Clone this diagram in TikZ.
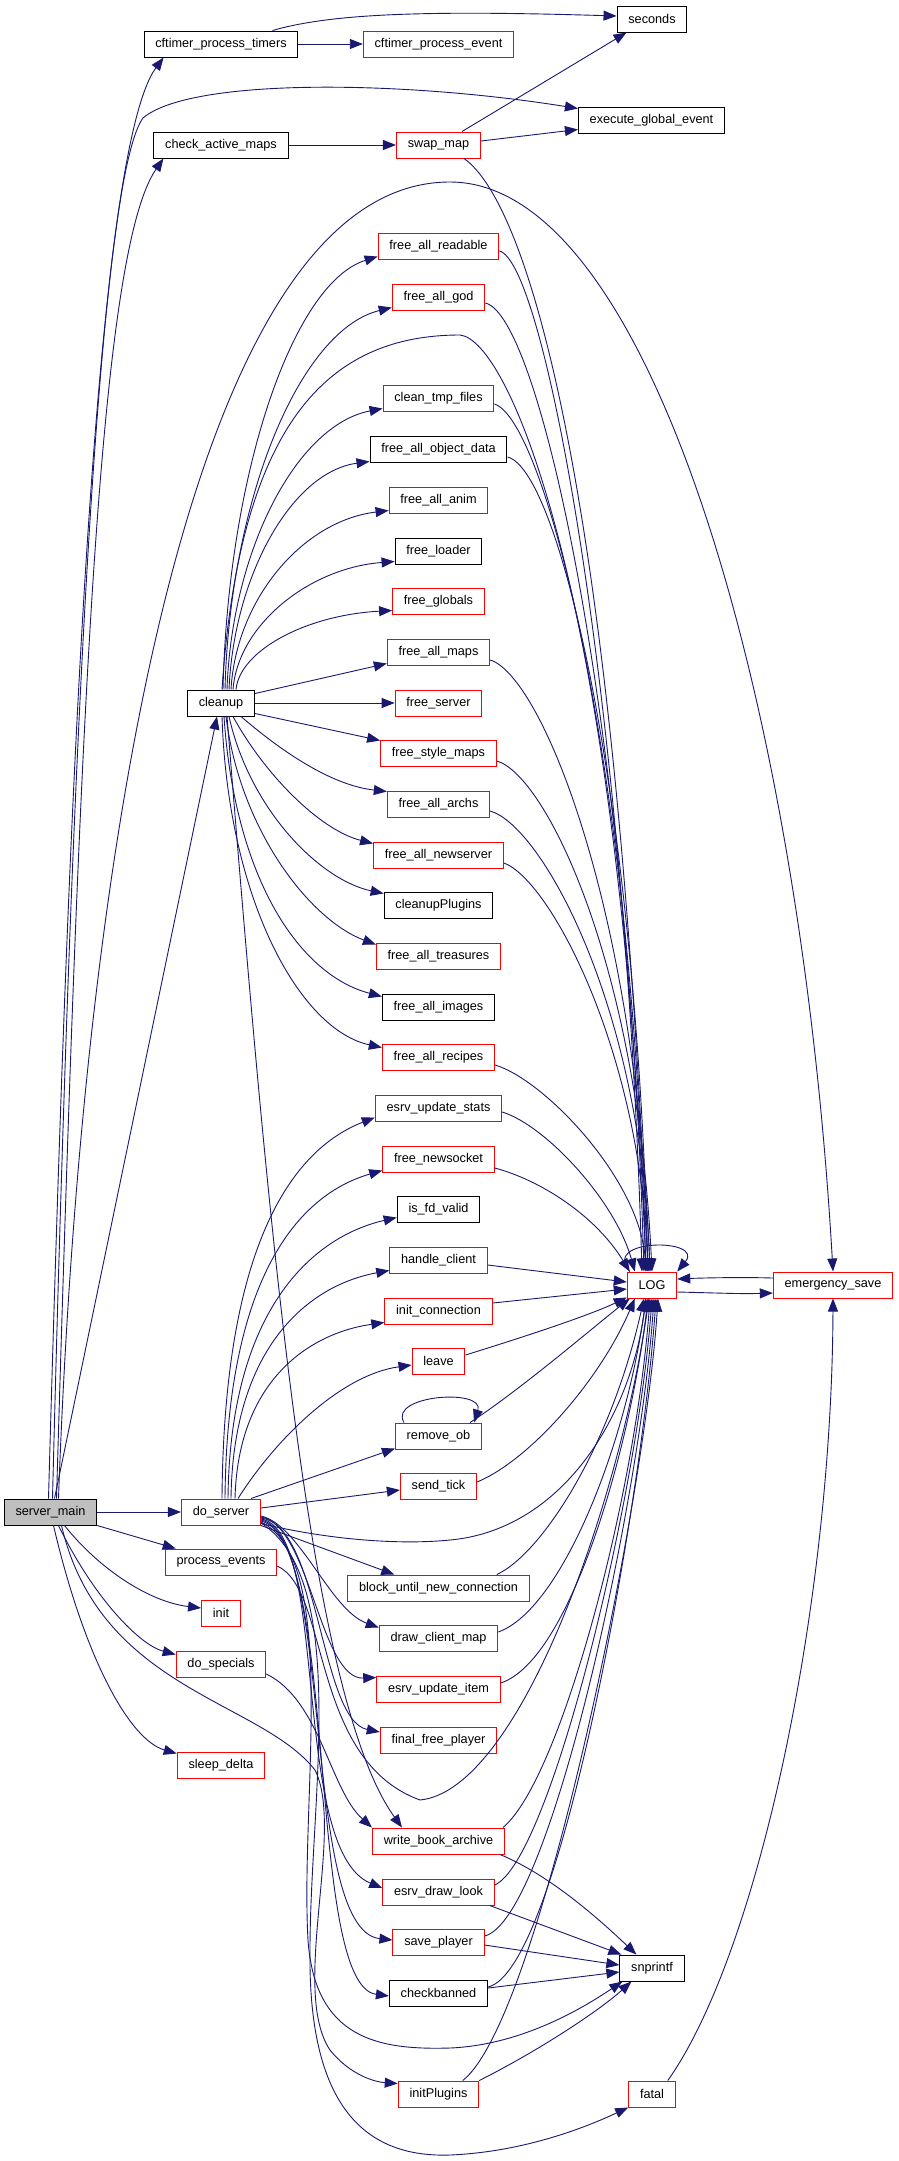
\documentclass[tikz,border=0pt]{standalone}
\usepackage{fontspec}
\setmainfont{Liberation Sans}
\usetikzlibrary{arrows.meta,calc}
\definecolor{eblue}{HTML}{191970}
\definecolor{ngray}{HTML}{BFBFBF}
\tikzset{
  nd/.style={draw, line width=1pt, minimum height=26pt, inner xsep=11.3pt, inner ysep=0pt, font=\fontsize{12.7}{14}\selectfont, text=black},
  rn/.style={nd, draw=red},
  bn/.style={nd, draw=black},
  e/.style={draw=eblue, line width=0.9pt, -{Triangle[length=13pt,width=10pt]}},
}
\begin{document}
\begin{tikzpicture}[x=1pt,y=-1pt]
\useasboundingbox[fill=white] (0,0) rectangle (899,2161);
% nodes
\node[bn] (cpt) at (221,44) {cftimer\_process\_timers};
\node[rn] (cpe) at (438.5,44) {cftimer\_process\_event};
\node[bn] (sec) at (652,19) {seconds};
\node[bn] (ege) at (651.5,120) {execute\_global\_event};
\node[bn] (cam) at (221,145) {check\_active\_maps};
\node[rn] (swp) at (438.5,145) {swap\_map};
\node[rn] (frd) at (438.5,246) {free\_all\_readable};
\node[rn] (fgd) at (438.5,297) {free\_all\_god};
\node[rn] (ctf) at (438.5,398) {clean\_tmp\_files};
\node[bn] (fod) at (438.5,449) {free\_all\_object\_data};
\node[rn] (fan) at (438.5,500) {free\_all\_anim};
\node[bn] (fld) at (438.5,551) {free\_loader};
\node[rn] (fgl) at (438.5,601) {free\_globals};
\node[rn] (fam) at (438.5,652) {free\_all\_maps};
\node[rn] (fsv) at (438.5,703) {free\_server};
\node[bn] (cln) at (221,703) {cleanup};
\node[rn] (fsm) at (438.5,753) {free\_style\_maps};
\node[rn] (far) at (438.5,804) {free\_all\_archs};
\node[rn] (fns) at (438.5,855) {free\_all\_newserver};
\node[bn] (cpl) at (438.5,905) {cleanupPlugins};
\node[rn] (ftr) at (438.5,956) {free\_all\_treasures};
\node[bn] (fim) at (438.5,1007) {free\_all\_images};
\node[rn] (frc) at (438.5,1057) {free\_all\_recipes};
\node[rn] (eus) at (438.5,1108) {esrv\_update\_stats};
\node[rn] (fnk) at (438.5,1159) {free\_newsocket};
\node[bn] (ifv) at (438.5,1209) {is\_fd\_valid};
\node[rn] (hcl) at (438.5,1260) {handle\_client};
\node[rn] (icn) at (438.5,1311) {init\_connection};
\node[rn] (lev) at (438.5,1361) {leave};
\node[rn] (rmo) at (438.5,1436) {remove\_ob};
\node[rn] (LOG) at (652,1285) {LOG};
\node[rn] (ems) at (833,1285) {emergency\_save};
\node[rn] (snd) at (438.5,1486) {send\_tick};
\node[bn, fill=ngray] (srv) at (50.5,1512) {server\_main};
\node[rn] (dos) at (221,1512) {do\_server};
\node[rn] (pev) at (221,1562) {process\_events};
\node[rn] (bun) at (438.5,1588) {block\_until\_new\_connection};
\node[rn] (ini) at (221,1613) {init};
\node[rn] (dcm) at (438.5,1638) {draw\_client\_map};
\node[rn] (dsp) at (221,1664) {do\_specials};
\node[rn] (eui) at (438.5,1689) {esrv\_update\_item};
\node[rn] (ffp) at (438.5,1740) {final\_free\_player};
\node[rn] (sld) at (221,1765) {sleep\_delta};
\node[rn] (wba) at (438.5,1841) {write\_book\_archive};
\node[rn] (edl) at (438.5,1892) {esrv\_draw\_look};
\node[rn] (svp) at (438.5,1942) {save\_player};
\node[bn] (ckb) at (438.5,1993) {checkbanned};
\node[rn] (ipl) at (438.5,2094) {initPlugins};
\node[bn] (snp) at (652,1968) {snprintf};
\node[rn] (fat) at (652,2094) {fatal};

% server_main
\draw[e] ($(srv.north)+(-2,0)$) .. controls (68,800) and (95,150) .. ($(cpt.south west)+(20,0)$);
\draw[e] ($(srv.north)+(2,0)$) .. controls (75,600) and (105,170) .. (143,118) .. controls (190,78) and (400,80) .. ($(ege.north west)+(0,2)$);
\draw[e] ($(srv.north)+(6,0)$) .. controls (80,700) and (100,250) .. ($(cam.south west)+(10,0)$);
\draw[e] ($(srv.north)+(8,0)$) .. controls (80,900) and (180,182) .. (450,182) .. controls (650,182) and (800,700) .. (ems.north);
\draw[e] ($(srv.north)+(4,0)$) -- ($(cln.south)+(-4,0)$);
\draw[e] (srv.east) -- (dos.west);
\draw[e] (srv.south east) -- ($(pev.north west)+(11,0)$);
\draw[e] ($(srv.south)+(14,0)$) .. controls (100,1570) and (150,1602) .. ($(ini.west)+(0,-5)$);
\draw[e] ($(srv.south)+(8,0)$) .. controls (95,1600) and (140,1645) .. ($(dsp.north west)+(0,4)$);
\draw[e] ($(srv.south)+(3,0)$) .. controls (85,1660) and (130,1740) .. ($(sld.north west)+(0,2)$);
\draw[e] ($(srv.south)+(11,0)$) .. controls (100,1690) and (260,1700) .. (315,1770) .. controls (345,1830) and (290,1990) .. (330,2050) .. controls (350,2075) and (375,2082) .. ($(ipl.north west)+(0,3)$);

% top area
\draw[e] (cpt) -- (cpe);
\draw[e] ($(cpt.north east)+(-26,0)$) .. controls (330,14) and (420,10) .. ($(sec.west)+(0,-3)$);
\draw[e] (cam) -- (swp);
\draw[e] ($(swp.north east)+(-19,0)$) -- ($(sec.south west)+(10,0)$);
\draw[e] ($(swp.east)+(0,-4)$) -- ($(ege.south west)+(0,-4)$);
\draw[e] ($(swp.south east)+(-17,0)$) .. controls (530,205) and (615,500) .. ($(LOG.north)+(-4,0)$);

% cleanup fan
\draw[e] ($(cln.north)+(2,0)$) .. controls (228,473) and (293,283) .. ($(frd.south west)+(0,-3)$);
\draw[e] ($(cln.north)+(4,0)$) .. controls (230,498) and (300,330) .. ($(fgd.south west)+(0,-3)$);
\draw[e] ($(cln.north)+(6,0)$) .. controls (232,549) and (297,425) .. ($(ctf.south west)+(0,-3)$);
\draw[e] ($(cln.north)+(8,0)$) .. controls (234,575) and (292,472) .. ($(fod.south west)+(0,-1)$);
\draw[e] ($(cln.north)+(10,0)$) .. controls (236,600) and (302,521) .. ($(fan.south west)+(0,-3)$);
\draw[e] ($(cln.north)+(12,0)$) .. controls (238,625) and (309,568) .. ($(fld.south west)+(0,-3)$);
\draw[e] ($(cln.north)+(15,0)$) .. controls (240,650) and (307,615) .. ($(fgl.south west)+(0,-4)$);
\draw[e] ($(cln.north east)+(0,4)$) -- ($(fam.south west)+(0,-2)$);
\draw[e] (cln.east) -- (fsv.west);
\draw[e] ($(cln.south east)+(0,-3)$) -- ($(fsm.north west)+(0,1)$);
\draw[e] ($(cln.south)+(20,0)$) .. controls (280,750) and (330,785) .. ($(far.north west)+(0,1)$);
\draw[e] ($(cln.south)+(12,0)$) .. controls (265,775) and (320,830) .. ($(fns.north west)+(0,2)$);
\draw[e] ($(cln.south)+(8,0)$) .. controls (250,810) and (320,880) .. ($(cpl.north west)+(0,2)$);
\draw[e] ($(cln.south)+(5,0)$) .. controls (240,830) and (310,920) .. ($(ftr.north west)+(0,2)$);
\draw[e] ($(cln.south)+(3,0)$) .. controls (235,880) and (300,975) .. ($(fim.north west)+(0,3)$);
\draw[e] ($(cln.south)+(1,0)$) .. controls (228,900) and (300,1030) .. ($(frc.north west)+(0,4)$);
\draw[e] ($(cln.north)+(1,0)$) .. controls (240,420) and (330,335) .. (460,335) .. controls (510,340) and (620,600) .. ($(LOG.north)+(-6,0)$);
\draw[e] ($(cln.south)+(6,0)$) .. controls (270,1250) and (310,1700) .. ($(wba.north west)+(30,0)$);

% to LOG from upper column
\draw[e] ($(frd.east)+(0,5)$) .. controls (545,262) and (625,700) .. ($(LOG.north)+(-10,0)$);
\draw[e] ($(fgd.east)+(0,6)$) .. controls (540,315) and (628,720) .. ($(LOG.north)+(-8,0)$);
\draw[e] ($(ctf.east)+(0,6)$) .. controls (545,420) and (632,760) .. ($(LOG.north)+(-6,0)$);
\draw[e] ($(fod.east)+(0,8)$) .. controls (560,470) and (636,800) .. ($(LOG.north)+(-4,0)$);
\draw[e] ($(fam.east)+(0,8)$) .. controls (540,675) and (635,900) .. ($(LOG.north)+(-2,0)$);
\draw[e] ($(fsm.east)+(0,8)$) .. controls (545,775) and (637,960) .. (LOG.north);
\draw[e] ($(far.east)+(0,7)$) .. controls (540,825) and (640,1000) .. ($(LOG.north)+(-2,0)$);
\draw[e] ($(fns.east)+(0,8)$) .. controls (550,880) and (640,1050) .. ($(LOG.north)+(-4,0)$);
\draw[e] ($(frc.east)+(0,8)$) .. controls (545,1080) and (640,1180) .. ($(LOG.north)+(-6,0)$);
\draw[e] ($(eus.east)+(0,4)$) .. controls (545,1125) and (615,1200) .. ($(LOG.north west)+(8,0)$);
\draw[e] ($(fnk.east)+(0,9)$) .. controls (540,1180) and (595,1215) .. ($(LOG.north west)+(3,0)$);
\draw[e] ($(hcl.east)+(0,5)$) -- ($(LOG.west)+(0,-3)$);
\draw[e] ($(icn.east)+(0,-8)$) -- ($(LOG.west)+(0,4)$);
\draw[e] ($(lev.east)+(0,-6)$) .. controls (530,1335) and (590,1315) .. ($(LOG.south west)+(0,-1)$);
\draw[e] ($(rmo.north east)+(-12,0)$) .. controls (520,1390) and (590,1330) .. ($(LOG.south west)+(3,0)$);
\draw[e] ($(rmo.north west)+(9,0)$) .. controls (388,1395) and (485,1388) .. ($(rmo.north east)+(-8,0)$);
\draw[e] ($(LOG.north west)+(3,0)$) .. controls (600,1238) and (705,1238) .. (LOG.north east);
\draw[e] ($(ems.west)+(0,-7)$) .. controls (740,1277) and (700,1278) .. ($(LOG.east)+(0,-6)$);
\draw[e] ($(LOG.east)+(0,7)$) .. controls (720,1293) and (740,1294) .. ($(ems.west)+(0,8)$);
\draw[e] ($(fat.north east)+(-8,0)$) .. controls (760,1950) and (832,1600) .. (ems.south);

% to LOG from lower column
\draw[e] ($(snd.east)+(0,-4)$) .. controls (530,1460) and (600,1380) .. ($(LOG.south west)+(8,0)$);
\draw[e] ($(bun.north east)+(-33,0)$) .. controls (540,1555) and (610,1450) .. ($(LOG.south)+(-8,0)$);
\draw[e] ($(dcm.east)+(0,-6)$) .. controls (560,1610) and (625,1450) .. ($(LOG.south)+(-6,0)$);
\draw[e] ($(eui.east)+(0,-6)$) .. controls (570,1660) and (630,1450) .. ($(LOG.south)+(-4,0)$);
\draw[e] ($(wba.north east)+(-2,0)$) .. controls (560,1780) and (635,1500) .. ($(LOG.south)+(-2,0)$);
\draw[e] ($(edl.east)+(0,-7)$) .. controls (550,1860) and (637,1500) .. (LOG.south);
\draw[e] ($(svp.east)+(0,-6)$) .. controls (550,1920) and (640,1500) .. ($(LOG.south)+(2,0)$);
\draw[e] ($(ckb.east)+(0,-6)$) .. controls (560,1970) and (642,1500) .. ($(LOG.south)+(4,0)$);
\draw[e] ($(ipl.north west)+(65,0)$) .. controls (540,2020) and (645,1500) .. ($(LOG.south)+(6,0)$);
\draw[e] ($(pev.east)+(0,4)$) .. controls (330,1590) and (310,1760) .. (420,1800) .. controls (520,1790) and (620,1500) .. ($(LOG.south)+(-3,0)$);

% to snprintf
\draw[e] ($(wba.south east)+(-5,0)$) .. controls (550,1875) and (600,1920) .. ($(snp.north west)+(17,0)$);
\draw[e] ($(edl.south east)+(-5,0)$) -- ($(snp.north west)+(2,0)$);
\draw[e] ($(svp.east)+(0,3)$) -- ($(snp.west)+(0,-3)$);
\draw[e] ($(ckb.east)+(0,-5)$) -- ($(snp.west)+(0,4)$);
\draw[e] (ipl.north east) .. controls (540,2050) and (600,2010) .. ($(snp.south west)+(12,0)$);

% do_specials
\draw[e] ($(dsp.east)+(0,10)$) .. controls (320,1700) and (330,1790) .. (wba.north west);

% do_server
\draw[e] ($(dos.north)+(1,0)$) .. controls (224,1232) and (299,1147) .. ($(eus.south west)+(0,-4)$);
\draw[e] ($(dos.north)+(4,0)$) .. controls (227,1268) and (304,1193) .. ($(fnk.south west)+(0,-2)$);
\draw[e] ($(dos.north)+(7,0)$) .. controls (230,1310) and (312,1237) .. ($(ifv.south west)+(0,-5)$);
\draw[e] ($(dos.north)+(10,0)$) .. controls (233,1345) and (310,1285) .. ($(hcl.south west)+(0,-3)$);
\draw[e] ($(dos.north)+(14,0)$) .. controls (238,1380) and (310,1333) .. ($(icn.south west)+(0,-2)$);
\draw[e] ($(dos.north)+(17,0)$) .. controls (275,1440) and (340,1375) .. ($(lev.west)+(0,4)$);
\draw[e] ($(dos.north east)+(-10,0)$) -- ($(rmo.south west)+(0,-1)$);
\draw[e] ($(dos.east)+(0,-4)$) -- ($(snd.west)+(0,4)$);
\draw[e] ($(dos.south east)+(0,-2)$) .. controls (330,1540) and (400,1545) .. (450,1540) .. controls (560,1530) and (630,1420) .. ($(LOG.south)+(-6,0)$);
\draw[e] (dos.south east) -- ($(bun.north west)+(47,0)$);
\draw[e] ($(dos.east)+(0,4)$) .. controls (300,1525) and (330,1610) .. ($(dcm.north west)+(0,3)$);
\draw[e] ($(dos.east)+(0,5)$) .. controls (310,1525) and (320,1680) .. ($(eui.north west)+(0,2)$);
\draw[e] ($(dos.east)+(0,6)$) .. controls (320,1525) and (320,1720) .. ($(ffp.west)+(0,-8)$);
\draw[e] ($(dos.east)+(0,7)$) .. controls (330,1530) and (290,1850) .. ($(edl.west)+(0,-4)$);
\draw[e] ($(dos.east)+(0,8)$) .. controls (335,1535) and (300,1930) .. ($(svp.west)+(0,-2)$);
\draw[e] ($(dos.east)+(0,9)$) .. controls (340,1540) and (305,1985) .. ($(ckb.west)+(0,3)$);
\draw[e] ($(dos.east)+(0,10)$) .. controls (340,1560) and (300,1800) .. (308,1940) .. controls (315,2040) and (380,2050) .. (450,2048) .. controls (520,2045) and (580,2010) .. ($(snp.south west)+(3,0)$);
\draw[e] ($(dos.east)+(0,11)$) .. controls (350,1580) and (310,1800) .. (310,1950) .. controls (308,2100) and (360,2158) .. (450,2155) .. controls (520,2152) and (580,2130) .. (fat.south west);
\end{tikzpicture}
\end{document}
